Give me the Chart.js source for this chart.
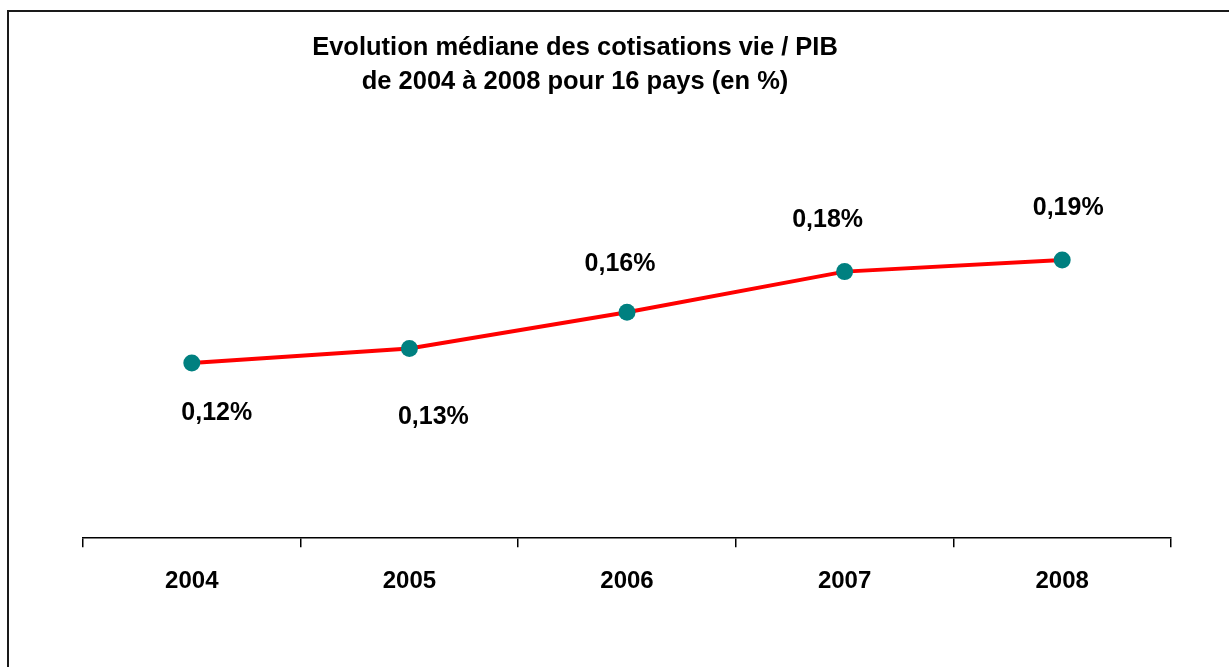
<!DOCTYPE html>
<html>
<head>
<meta charset="utf-8">
<script src="https://cdn.jsdelivr.net/npm/chart.js@4.4.0/dist/chart.umd.min.js"></script>
<style>
  body { margin: 0; background: #fff; }
  #wrap { position: relative; width: 1229px; height: 667px; }
  #frame {
    position: absolute; left: 7px; top: 10px; right: 0; bottom: 0;
    border-left: 2px solid #1a1a1a; border-top: 2px solid #1a1a1a;
    pointer-events: none;
  }
</style>
</head>
<body>
<div id="wrap">
  <canvas id="chart" width="1229" height="667"></canvas>
  <div id="frame"></div>
</div>
<script>
const years = ["2004", "2005", "2006", "2007", "2008"];
const ratioVieSurPib = [0.121, 0.131, 0.156, 0.184, 0.192];
const titleLines = [
  "Evolution médiane des cotisations vie / PIB",
  "de 2004 à 2008 pour 16 pays (en %)"
];

// label offsets from each point (px), placed by hand like in the original
const labelOffsets = [[25, 50], [24, 69], [-7, -48], [-17, -52], [6, -52]];

const FONT = "'Liberation Sans', Arial, sans-serif";

const fmt = v => v.toFixed(2).replace(".", ",") + "%";

// title + point labels drawn on the canvas
const textPlugin = {
  id: "texts",
  afterDatasetsDraw(chart) {
    const ctx = chart.ctx;
    ctx.save();
    ctx.fillStyle = "#000";
    ctx.textAlign = "center";
    ctx.textBaseline = "alphabetic";
    ctx.font = "bold 25.5px " + FONT;
    ctx.fillText(titleLines[0], 575, 55);
    ctx.fillText(titleLines[1], 575, 89);

    ctx.font = "bold 25px " + FONT;
    ctx.textBaseline = "middle";
    const meta = chart.getDatasetMeta(0);
    meta.data.forEach((pt, i) => {
      const [dx, dy] = labelOffsets[i];
      ctx.fillText(fmt(ratioVieSurPib[i]), pt.x + dx, pt.y + dy);
    });
    ctx.restore();
  }
};

const ctx = document.getElementById("chart").getContext("2d");

new Chart(ctx, {
  type: "line",
  data: {
    labels: years,
    datasets: [{
      data: ratioVieSurPib,
      borderColor: "#ff0000",
      borderWidth: 4,
      tension: 0,
      pointRadius: 8.5,
      pointHoverRadius: 8.5,
      pointBackgroundColor: "#008080",
      pointBorderWidth: 0,
      fill: false
    }]
  },
  options: {
    responsive: false,
    animation: false,
    layout: { padding: { left: 83, right: 58, top: 176, bottom: 51 } },
    plugins: {
      legend: { display: false },
      title: { display: false },
      tooltip: { enabled: false }
    },
    scales: {
      x: {
        offset: true,
        grid: {
          offset: true,
          drawOnChartArea: false,
          drawTicks: true,
          tickLength: 9,
          color: "#000",
          lineWidth: 1.5
        },
        border: { color: "#000", width: 1.5 },
        ticks: {
          color: "#000",
          padding: 20,
          font: { family: FONT, size: 24, weight: "bold" }
        }
      },
      y: {
        display: false,
        min: 0,
        max: 0.25
      }
    }
  },
  plugins: [textPlugin]
});
</script>
</body>
</html>
